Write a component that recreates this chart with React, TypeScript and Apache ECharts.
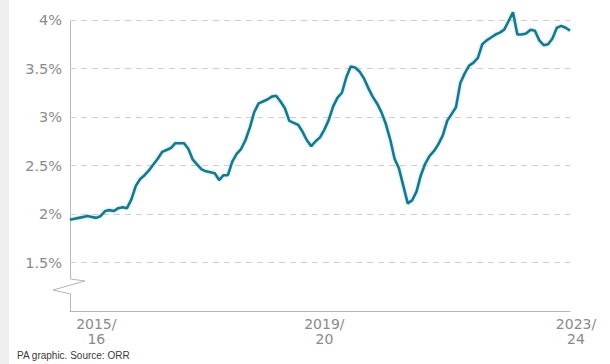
import React, { useEffect, useRef } from "react";
import * as echarts from "echarts";

// Share of trains cancelled (rolling average), by four-week period
const values: number[] = [
  1.94, 1.95, 1.96, 1.97, 1.98, 1.97, 1.96, 1.98, 2.03, 2.04,
  2.03, 2.06, 2.07, 2.06, 2.15, 2.29, 2.36, 2.40, 2.45, 2.51,
  2.57, 2.64, 2.66, 2.68, 2.73, 2.73, 2.73, 2.67, 2.56, 2.51,
  2.46, 2.44, 2.43, 2.42, 2.35, 2.40, 2.40, 2.54, 2.62, 2.67,
  2.76, 2.89, 3.05, 3.14, 3.16, 3.18, 3.21, 3.22, 3.16, 3.09,
  2.96, 2.94, 2.92, 2.85, 2.76, 2.70, 2.75, 2.79, 2.87, 2.97,
  3.11, 3.20, 3.25, 3.41, 3.52, 3.51, 3.47, 3.40, 3.30, 3.21,
  3.14, 3.05, 2.93, 2.77, 2.57, 2.47, 2.29, 2.11, 2.14, 2.23,
  2.40, 2.52, 2.60, 2.65, 2.72, 2.81, 2.96, 3.03, 3.10, 3.35,
  3.45, 3.53, 3.56, 3.61, 3.75, 3.79, 3.82, 3.85, 3.87, 3.90,
  3.99, 4.08, 3.85, 3.85, 3.86, 3.90, 3.89, 3.79, 3.74, 3.75,
  3.81, 3.92, 3.94, 3.92, 3.89,
];

// x tick labels and the period index they sit under
const tickLabels: string[] = ["2015/\n16", "2019/\n20", "2023/\n24"];
const tickIndex: number[] = [6, 58, 114];

// y axis
const yMin = 1;
const yMax = 4;
const yStep = 0.5;

const categories: string[] = values.map((_, i) => String(i));

export default function App() {
  const ref = useRef<HTMLDivElement>(null);

  useEffect(() => {
    if (!ref.current) return;
    const chart = echarts.init(ref.current, undefined, { renderer: "svg" });
    const labelFont = "DejaVu Sans";
    chart.setOption({
      animation: false,
      backgroundColor: "#ffffff",
      grid: { left: 70, right: 40, top: 20, bottom: 53, containLabel: false },
      xAxis: {
        type: "category",
        data: categories,
        boundaryGap: false,
        axisLine: { show: true, lineStyle: { color: "#b5b5b5", width: 1 } },
        axisTick: { show: false },
        splitLine: { show: false },
        axisLabel: {
          show: true,
          interval: (i: number) => tickIndex.indexOf(i) >= 0,
          formatter: (_v: string, i: number) => {
            const k = tickIndex.indexOf(i);
            if (k < 0) return "";
            const lines = tickLabels[k].split("\n");
            const style = k === tickLabels.length - 1 ? "e" : "a";
            return lines.map((l) => `{${style}|${l}}`).join("\n");
          },
          margin: 5,
          color: "#8a8a8a",
          fontFamily: labelFont,
          fontSize: 14,
          lineHeight: 15,
          rich: {
            a: { color: "#8a8a8a", fontFamily: labelFont, fontSize: 14, lineHeight: 15 },
            e: {
              color: "#8a8a8a",
              fontFamily: labelFont,
              fontSize: 14,
              lineHeight: 15,
              padding: [0, 0, 0, 12],
            },
          },
        },
      },
      yAxis: {
        type: "value",
        min: yMin,
        max: yMax,
        interval: yStep,
        axisLine: { show: false },
        axisTick: { show: false },
        splitLine: {
          show: true,
          lineStyle: { color: "#cfcfcf", type: [6, 5], width: 1 },
        },
        axisLabel: {
          margin: 8,
          color: "#8a8a8a",
          fontFamily: labelFont,
          fontSize: 14.5,
          formatter: (v: number) => (v === yMin ? "" : `${v}%`),
        },
      },
      series: [
        {
          type: "line",
          data: values,
          showSymbol: false,
          symbol: "none",
          clip: false,
          lineStyle: {
            color: "#1f7689",
            width: 2.6,
            shadowColor: "rgba(90,200,220,0.55)",
            shadowBlur: 3,
          },
        },
      ],
      graphic: [
        {
          type: "rect",
          left: 0,
          top: 0,
          shape: { width: 9, height: 364 },
          style: { fill: "#efefef" },
          silent: true,
        },
        {
          type: "polyline",
          shape: {
            points: [
              [70.5, 20],
              [70.5, 279],
              [85, 281],
              [53, 290],
              [70.5, 294],
              [70.5, 311],
            ],
          },
          style: { stroke: "#b5b5b5", lineWidth: 1, fill: null },
          silent: true,
        },
        {
          type: "text",
          left: 17,
          top: 350,
          style: {
            text: "PA graphic. Source: ORR",
            fill: "#3a3a3a",
            font: "10px 'Liberation Sans'",
          },
        },
      ],
    });
    return () => chart.dispose();
  }, []);

  return (
    <div
      ref={ref}
      style={{ position: "fixed", left: 0, top: 0, width: 610, height: 364 }}
    />
  );
}
